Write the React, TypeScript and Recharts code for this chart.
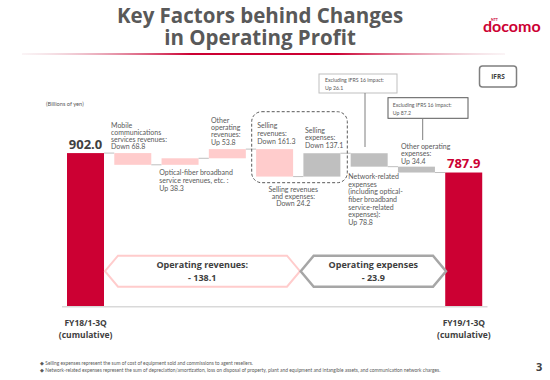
import React from 'react';
import { BarChart, Bar, XAxis, YAxis, LabelList } from 'recharts';

// steps of the bridge, billions of yen (first/last are the totals)
const categories = [
  'FY18/1-3Q',
  'Mobile communications services revenues',
  'Optical-fiber broadband service revenues, etc.',
  'Other operating revenues',
  'Selling revenues',
  'Selling expenses',
  'Network-related expenses',
  'Other operating expenses',
  'FY19/1-3Q',
];
const profitChange = [902.0, -68.8, 38.3, 53.8, -161.3, 137.1, -78.8, -34.4, 787.9];
const kinds = ['total', 'revenue', 'revenue', 'revenue', 'revenue', 'expense', 'expense', 'expense', 'total'];
const tickLines: string[][] = [
  ['FY18/1-3Q', '(cumulative)'], [], [], [], [], [], [], [], ['FY19/1-3Q', '(cumulative)'],
];

const COLORS: Record<string, string> = { total: '#CC0033', revenue: '#FFCCCC', expense: '#BFBFBF' };
const totalLabelColors = ['#404040', '#CC0033'];

const PLOT_LEFT = 62;
const PLOT_RIGHT = 487.5;
const PLOT_TOP = 136.4;
const PLOT_BOTTOM = 306.7;
const BAR_SIZE = 37;
const BAND = (PLOT_RIGHT - PLOT_LEFT) / categories.length;

// build waterfall rows
let running = 0;
const rows = categories.map((category, i) => {
  const d = profitChange[i];
  if (kinds[i] === 'total') {
    running = d;
    return { category, base: 0, size: d, delta: d, kind: kinds[i] };
  }
  const start = running;
  running = start + d;
  return { category, base: Math.min(start, running), size: Math.abs(d), delta: d, kind: kinds[i] };
});

const small = { fontFamily: 'Lato, sans-serif', fontSize: 7, fill: '#595959' };
const bold = { fontFamily: '"Open Sans", sans-serif', fontWeight: 700, fill: '#404040' };

const StepShape = (props: any) => {
  const { x, y, width, height, index, payload } = props;
  const isLast = index === categories.length - 1;
  // where the running total sits after this step
  const level = payload.kind === 'total' || payload.delta > 0 ? y : y + height;
  return (
    <g>
      <rect x={x} y={y} width={width} height={height} fill={COLORS[payload.kind]} />
      {!isLast && (
        <line x1={x + width} x2={x + BAND} y1={level} y2={level} stroke="#BFBFBF" strokeWidth={1} />
      )}
    </g>
  );
};

const TotalLabel = (props: any) => {
  const { x, y, width, index, value } = props;
  if (kinds[index] !== 'total') return null;
  const color = totalLabelColors[index === 0 ? 0 : 1];
  return (
    <text x={x + width / 2} y={y - 4.5} textAnchor="middle" fontSize={13} style={{ ...bold, fill: color }}>
      {Number(value).toFixed(1)}
    </text>
  );
};

const CategoryTick = (props: any) => {
  const { x, y, index } = props;
  const lines = tickLines[index] || [];
  return (
    <g>
      {lines.map((t, i) => (
        <text key={i} x={x} y={y + 19 + i * 12} textAnchor="middle" fontSize={8.5} style={bold}>
          {t}
        </text>
      ))}
    </g>
  );
};

const Lines = ({ x, y, step, lines, anchor = 'start', style = small }: any) => (
  <text x={x} y={y} textAnchor={anchor} style={style}>
    {lines.map((t: string, i: number) => (
      <tspan key={i} x={x} y={y + i * step}>
        {t}
      </tspan>
    ))}
  </text>
);

const hexagon = (l: number, r: number, t: number, b: number, inset: number) => {
  const m = (t + b) / 2;
  return `${l},${m} ${l + inset},${t} ${r - inset},${t} ${r},${m} ${r - inset},${b} ${l + inset},${b}`;
};

export default function App() {
  return (
    <div style={{ position: 'absolute', left: 0, top: 0, width: 550, height: 380, background: '#fff' }}>
      <BarChart
        width={550}
        height={380}
        data={rows}
        barSize={BAR_SIZE}
        margin={{ top: PLOT_TOP, right: 550 - PLOT_RIGHT, left: PLOT_LEFT, bottom: 380 - PLOT_BOTTOM - 30 }}
      >
        <XAxis
          dataKey="category"
          height={30}
          interval={0}
          tickLine={false}
          tickSize={0}
          tickMargin={0}
          axisLine={{ stroke: '#D9D9D9', strokeWidth: 1.5 }}
          tick={<CategoryTick />}
        />
        <YAxis hide domain={[0, 1000]} />
        <Bar dataKey="base" stackId="w" fill="transparent" isAnimationActive={false} />
        <Bar dataKey="size" stackId="w" shape={<StepShape />} isAnimationActive={false}>
          <LabelList dataKey="size" content={<TotalLabel />} />
        </Bar>
      </BarChart>

      <svg width={550} height={380} style={{ position: 'absolute', left: 0, top: 0, pointerEvents: 'none' }}>
        <defs>
          <linearGradient id="rule" x1="0" x2="1" y1="0" y2="0">
            <stop offset="0%" stopColor="#E8C8D0" stopOpacity={0.2} />
            <stop offset="35%" stopColor="#CC0033" />
            <stop offset="65%" stopColor="#CC0033" />
            <stop offset="100%" stopColor="#E8C8D0" stopOpacity={0.2} />
          </linearGradient>
        </defs>

        {/* title */}
        <text x={260} y={23.3} textAnchor="middle" fontSize={20.5} style={{ ...bold, fill: '#595959' }}>
          Key Factors behind Changes
        </text>
        <text x={260} y={45} textAnchor="middle" fontSize={20.5} style={{ ...bold, fill: '#595959' }}>
          in Operating Profit
        </text>
        <rect x={22} y={53} width={483} height={2} fill="url(#rule)" />

        {/* logo */}
        <text x={491} y={21} fontSize={3.5} fill="#CC0033" fontFamily="Lato, sans-serif" fontWeight={700}>NTT</text>
        <text x={483} y={31.5} fontSize={16} fill="#CC0033" fontFamily="Lato, sans-serif" fontWeight={700}>
          docomo
        </text>

        {/* IFRS tag */}
        <rect x={479.5} y={66} width={37} height={21} rx={3} fill="none" stroke="#7F7F7F" strokeWidth={1.5} />
        <text x={498} y={79} textAnchor="middle" fontSize={6.5} style={bold}>IFRS</text>

        <text x={46} y={106} style={{ ...small, fontSize: 5.7 }}>(Billions of yen)</text>

        {/* bar annotations */}
        <Lines x={111} y={127.6} step={7.2} lines={['Mobile', 'communications', 'services revenues:', 'Down 68.8']} />
        <Lines x={159.3} y={175.2} step={7.7} lines={['Optical-fiber broadband', 'service revenues, etc. :', 'Up 38.3']} />
        <Lines x={211} y={122.6} step={7.3} lines={['Other', 'operating', 'revenues:', 'Up 53.8']} />
        <Lines x={257.3} y={127.5} step={8} lines={['Selling', 'revenues:', 'Down 161.3']} />
        <Lines x={305} y={133.2} step={7.2} lines={['Selling', 'expenses:', 'Down 137.1']} />
        <Lines x={293.3} y={191.5} step={7.3} anchor="middle" lines={['Selling revenues', 'and expenses:', 'Down 24.2']} />
        <Lines
          x={348.3}
          y={179.2}
          step={7.6}
          lines={['Network-related', 'expenses', '(including optical-', 'fiber broadband', 'service-related', 'expenses):', 'Up 78.8']}
        />
        <Lines x={401} y={148.5} step={7.6} lines={['Other operating', 'expenses:', 'Up 34.4']} />

        <rect x={251.7} y={111.7} width={95.6} height={71} rx={10} fill="none" stroke="#595959" strokeDasharray="3 2" />

        {/* IFRS 16 call-outs */}
        <rect x={319} y={74} width={78} height={19} fill="#fff" stroke="#BFBFBF" strokeWidth={1} />
        <Lines x={325} y={82} step={8.3} style={{ ...small, fontSize: 5.2 }} lines={['Excluding IFRS 16 impact:', 'Up 26.1']} />
        <line x1={365} x2={365} y1={93} y2={147} stroke="#7F7F7F" strokeWidth={1} />
        <rect x={388} y={97.7} width={80} height={20.6} fill="#fff" stroke="#595959" strokeWidth={1} />
        <Lines x={392.7} y={106.5} step={8} style={{ ...small, fontSize: 5.2 }} lines={['Excluding IFRS 16 impact:', 'Up 87.2']} />
        <line x1={422.7} x2={422.7} y1={118.3} y2={140} stroke="#7F7F7F" strokeWidth={1} />

        {/* summary arrows */}
        <polygon points={hexagon(105, 300, 255.7, 286.7, 13)} fill="#fff" stroke="#FFCCCC" strokeWidth={2} />
        <polygon points={hexagon(300.7, 446, 255.7, 286.7, 13)} fill="#fff" stroke="#A6A6A6" strokeWidth={2.5} />
        <Lines x={202.3} y={268.3} step={13} anchor="middle" style={{ ...bold, fontSize: 9 }} lines={['Operating revenues:', '- 138.1']} />
        <Lines x={373.3} y={268.3} step={13} anchor="middle" style={{ ...bold, fontSize: 9 }} lines={['Operating expenses', '- 23.9']} />

        {/* footnotes */}
        <text x={40} y={364.5} style={{ ...small, fontSize: 4.9 }}>
          ◆ Selling expenses represent the sum of cost of equipment sold and commissions to agent resellers.
        </text>
        <text x={40} y={372} style={{ ...small, fontSize: 4.9 }}>
          ◆ Network-related expenses represent the sum of depreciation/amortization, loss on disposal of property, plant and equipment and intangible assets, and communication network charges.
        </text>
        <text x={536} y={371} fontSize={11} style={bold}>3</text>
      </svg>
    </div>
  );
}
